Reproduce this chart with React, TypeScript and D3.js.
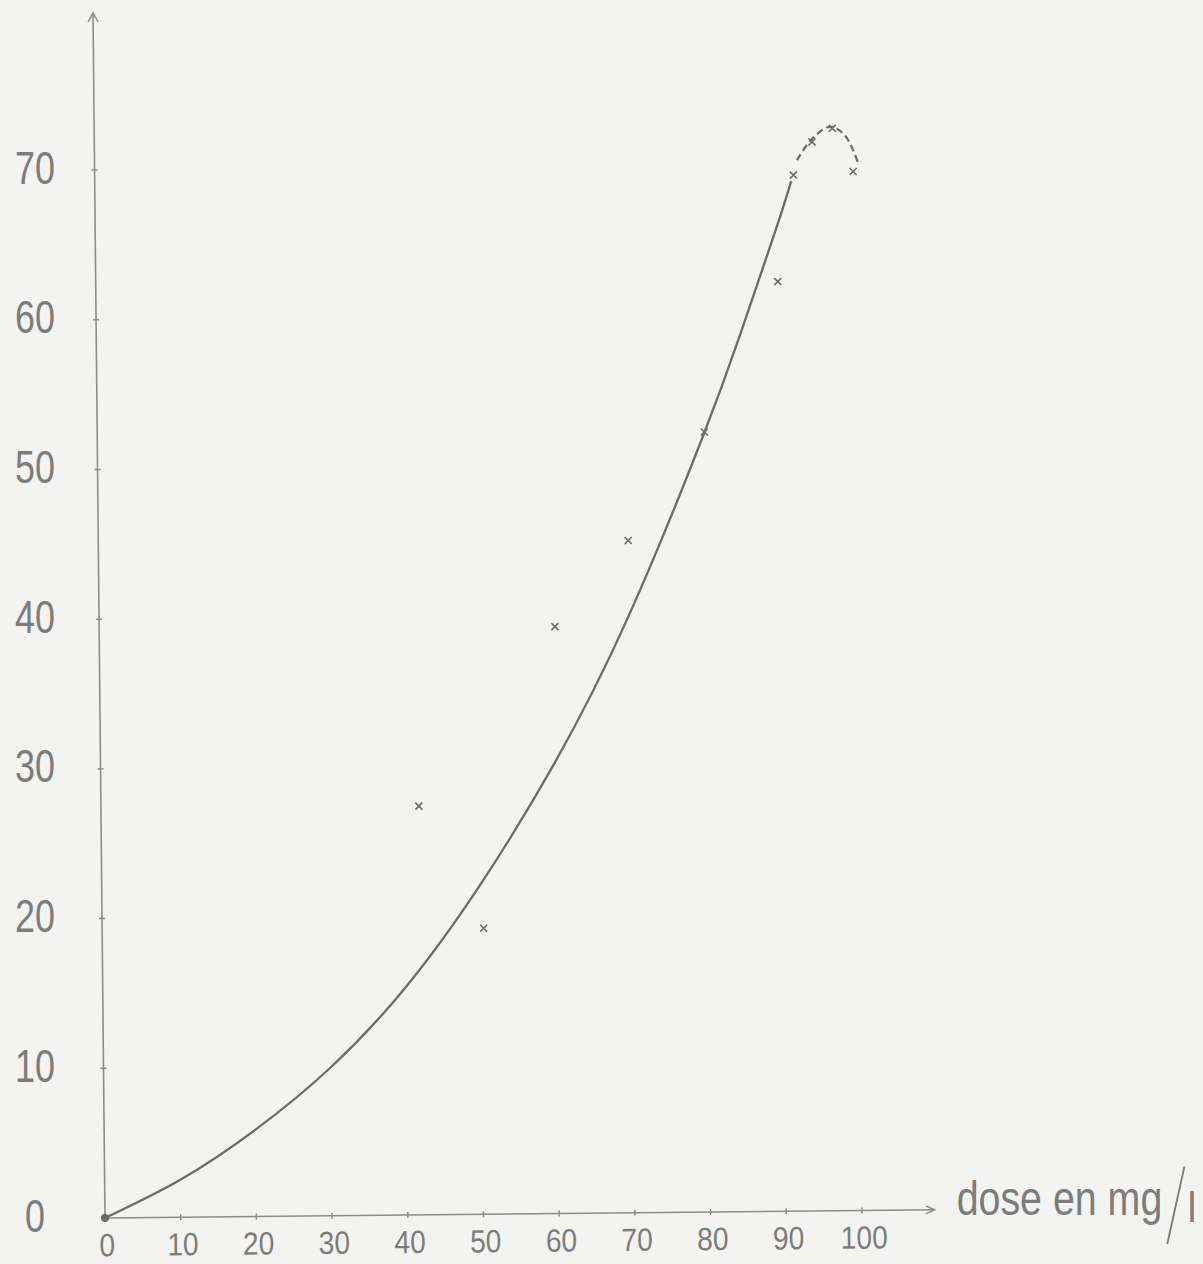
import React from "react";
import * as d3 from "d3";

const xTicks = [0, 10, 20, 30, 40, 50, 60, 70, 80, 90, 100];
const xTickLabels = ["0", "10", "20", "30", "40", "50", "60", "70", "80", "90", "100"];
const yTicks = [0, 10, 20, 30, 40, 50, 60, 70];
const yTickLabels = ["0", "10", "20", "30", "40", "50", "60", "70"];

const measuredDose = [42, 50.4, 60.2, 70, 80.2, 90.1, 92.3, 94.8, 97.5, 100.2];
const measuredEffect = [27.3, 19.1, 39.2, 44.9, 52.1, 62.1, 69.2, 71.4, 72.3, 69.4];

const curveDose = [0, 10, 20, 30, 40, 50, 60, 70, 80, 85, 90, 92];
const curveEffect = [0, 2.5, 5.8, 9.9, 15.2, 22.0, 30.1, 39.9, 51.8, 58.5, 65.7, 68.8];

const arcDose = [92.8, 94.8, 97.2, 99.2, 100.9];
const arcEffect = [70.2, 71.6, 72.4, 71.8, 69.9];

const axisLabel = "dose en mg";
const axisSlash = "/";
const axisUnit = "l";

const W = 1203;
const H = 1264;
const X0 = 105;
const Y0 = 1218;

export default function App() {
  const x = d3.scaleLinear().domain([0, 100]).range([X0, X0 + 757]);
  const y = d3.scaleLinear().domain([0, 70]).range([Y0, Y0 - 1048]);

  const line = d3
    .line<number>()
    .x((_, i) => x(curveDose[i]))
    .y((_, i) => y(curveEffect[i]))
    .curve(d3.curveNatural);
  const arc = d3
    .line<number>()
    .x((_, i) => x(arcDose[i]))
    .y((_, i) => y(arcEffect[i]))
    .curve(d3.curveCatmullRom);

  const ink = "#6b6b6b";
  const textInk = "#7c7c7c";
  const axisInk = "#8c8c8c";
  const font = "'Liberation Sans', Arimo, sans-serif";
  const xEnd = x(109.6);
  const yTop = y(80.5);
  const titleX = xEnd + 22;
  const titleY = Y0 - 3;

  return (
    <div style={{ position: "absolute", left: 0, top: 0 }}>
      <svg width={W} height={H} style={{ display: "block", background: "#f3f3f1" }}>
        <rect x={0} y={0} width={W} height={H} fill="#f3f3f1" />
        {/* y tick labels (upright) */}
        {yTicks.map((v, i) => (
          <text
            key={"yl" + v}
            transform={`translate(35, ${y(v) - 2}) scale(0.78, 1)`}
            fontFamily={font}
            fontSize={46}
            fill={textInk}
            textAnchor="middle"
            dominantBaseline="central"
          >
            {yTickLabels[i]}
          </text>
        ))}
        {/* axis title */}
        <text
          transform={`translate(${titleX}, ${titleY}) scale(0.82, 1)`}
          fontFamily={font}
          fontSize={48}
          fill={textInk}
        >
          {axisLabel}
        </text>
        <text
          transform={`translate(${titleX + 219}, ${titleY - 9}) skewX(-9) scale(0.55, 2.4)`}
          fontFamily={font}
          fontSize={44}
          fill={textInk}
          textAnchor="middle"
          dominantBaseline="central"
        >
          {axisSlash}
        </text>
        <text
          transform={`translate(${titleX + 231}, ${titleY + 7}) scale(0.9, 1)`}
          fontFamily={font}
          fontSize={42}
          fill={textInk}
        >
          {axisUnit}
        </text>
        <g transform={`rotate(-0.57, ${X0}, ${Y0})`}>
          {/* axes */}
          <line x1={x(0)} y1={y(0)} x2={x(0)} y2={yTop} stroke={axisInk} strokeWidth={1.6} />
          <path
            d={`M${x(0) - 5},${yTop + 9} L${x(0)},${yTop} L${x(0) + 5},${yTop + 9}`}
            fill="none"
            stroke={axisInk}
            strokeWidth={1.5}
          />
          <line x1={x(0)} y1={y(0)} x2={xEnd} y2={y(0)} stroke={axisInk} strokeWidth={1.6} />
          <path
            d={`M${xEnd - 9},${y(0) - 4} L${xEnd},${y(0)} L${xEnd - 9},${y(0) + 4}`}
            fill="none"
            stroke={axisInk}
            strokeWidth={1.5}
          />
          {yTicks.slice(1).map((v) => (
            <line key={"yt" + v} x1={x(0) - 3} x2={x(0) + 3} y1={y(v)} y2={y(v)} stroke={axisInk} strokeWidth={1.5} />
          ))}
          {xTicks.slice(1).map((v) => (
            <line key={"xt" + v} x1={x(v)} x2={x(v)} y1={y(0) - 3} y2={y(0) + 3} stroke={axisInk} strokeWidth={1.5} />
          ))}
          {/* x tick labels */}
          {xTicks.map((v, i) => (
            <text
              key={"xl" + v}
              transform={`translate(${x(v) + 2}, ${y(0) + 27}) scale(0.88, 1)`}
              fontFamily={font}
              fontSize={32}
              fill={textInk}
              textAnchor="middle"
              dominantBaseline="central"
            >
              {xTickLabels[i]}
            </text>
          ))}
          {/* fitted curve */}
          <path d={line(curveDose) || ""} fill="none" stroke={ink} strokeWidth={2.3} />
          <path
            d={arc(arcDose) || ""}
            fill="none"
            stroke={ink}
            strokeWidth={2.2}
            strokeDasharray="7 4"
          />
          <circle cx={x(0)} cy={y(0)} r={4} fill={ink} />
          {/* measured points */}
          {measuredDose.map((d, i) => {
            const cx = x(d);
            const cy = y(measuredEffect[i]);
            const s = 3.5;
            return (
              <path
                key={"p" + i}
                d={`M${cx - s},${cy - s}L${cx + s},${cy + s}M${cx - s},${cy + s}L${cx + s},${cy - s}`}
                stroke="#6a6a6a"
                strokeWidth={1.6}
              />
            );
          })}
        </g>
      </svg>
    </div>
  );
}
